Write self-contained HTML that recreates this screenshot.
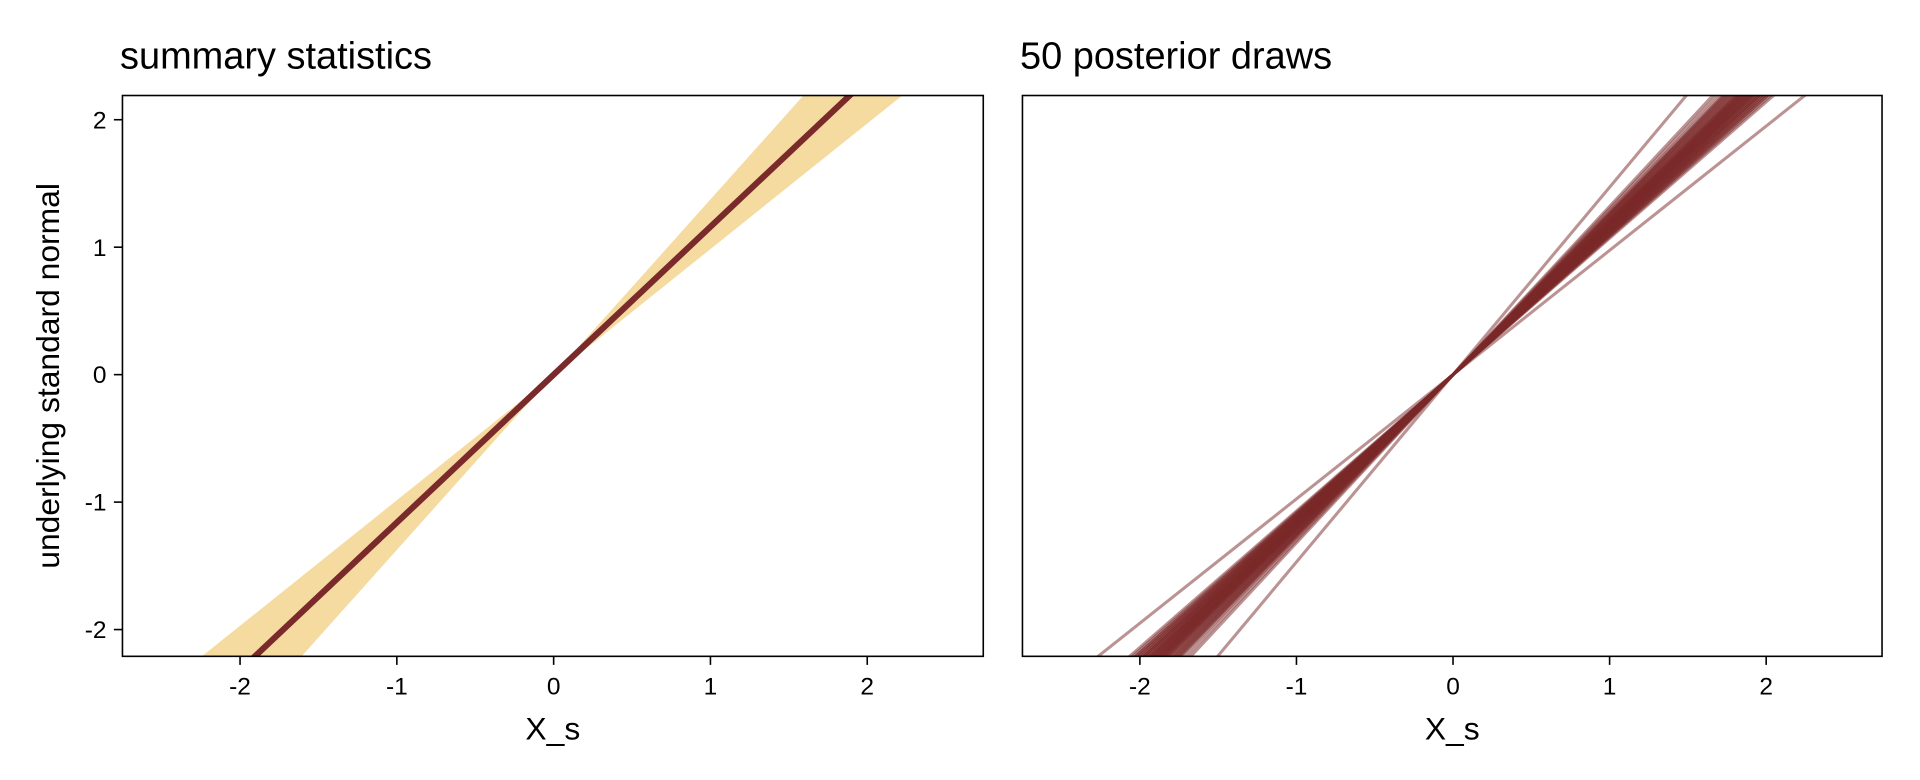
<!DOCTYPE html>
<html><head><meta charset="utf-8"><style>
html,body{margin:0;padding:0;background:#fff;width:1920px;height:780px;overflow:hidden;font-family:"Liberation Sans",Arial,sans-serif}
svg{display:block}
svg text{font-family:"Liberation Sans",Arial,sans-serif}
</style></head><body>
<svg id="c" width="1920" height="780" viewBox="0 0 1568 637"></svg>
<script>
const xTicks=[-2,-1,0,1,2];
const yTicks=[-2,-1,0,1,2];
const meanSlope=[1.16];
const bandSlopes=[0.985,1.375];
const drawSlopes=[1.47,0.975,1.10,1.15,1.20,1.12,1.25,1.18,1.08,1.22,1.14,1.30,1.17,1.11,1.19,1.24,1.09,1.16,1.21,1.13,1.27,1.15,1.18,1.10,1.23,1.12,1.20,1.16,1.26,1.14,1.07,1.19,1.28,1.13,1.17,1.21,1.11,1.24,1.15,1.18,1.32,1.12,1.16,1.22,1.09,1.19,1.14,1.26,1.17,1.20];
const NS="http://www.w3.org/2000/svg";
const svg=document.getElementById('c');
function mk(t,a,p){const e=document.createElementNS(NS,t);for(const k in a)e.setAttribute(k,a[k]);(p||svg).appendChild(e);return e;}
const X0=-2.75,X1=2.74,Y0=-2.21,Y1=2.19;
const panels=[{l:100,r:803,t:78,b:536,title:"summary statistics",yl:true},{l:835,r:1537,t:78,b:536,title:"50 posterior draws",yl:false}];
panels.forEach((P,i)=>{
 const sx=v=>P.l+(v-X0)/(X1-X0)*(P.r-P.l);
 const sy=v=>P.b-(v-Y0)/(Y1-Y0)*(P.b-P.t);
 const g=mk('g',{});
 
 
 const cid='clip'+i;
 const cp=mk('clipPath',{id:cid},g);mk('rect',{x:P.l,y:P.t,width:P.r-P.l,height:P.b-P.t},cp);
 const pg=mk('g',{'clip-path':'url(#'+cid+')'},g);
 if(i==0){
  const [a,b]=bandSlopes;
  const pts=[[X0,a*X0],[0,0],[X0,b*X0]].map(p=>sx(p[0])+','+sy(p[1])).join(' ');
  const pts2=[[X1,a*X1],[0,0],[X1,b*X1]].map(p=>sx(p[0])+','+sy(p[1])).join(' ');
  const b1=mk('polygon',{points:pts,fill:'#f5dba0'},pg);
  
  const b2=mk('polygon',{points:pts2,fill:'#f5dba0'},pg);
  
  const m=meanSlope[0];
  const ml=mk('line',{x1:sx(X0),y1:sy(m*X0),x2:sx(X1),y2:sy(m*X1),stroke:'#7a2a2a','stroke-width':5},pg);
  
 }else{
  drawSlopes.forEach(s=>{
   const l=mk('line',{x1:sx(X0),y1:sy(s*X0),x2:sx(X1),y2:sy(s*X1),stroke:'rgba(122,40,40,0.5)','stroke-width':2.5},pg);
   
   
  });
 }
 mk('rect',{x:P.l,y:P.t,width:P.r-P.l,height:P.b-P.t,fill:'none',stroke:'#000','stroke-width':1.3},g);
 xTicks.forEach(v=>{
  mk('line',{x1:sx(v),x2:sx(v),y1:P.b,y2:P.b+7,stroke:'#000','stroke-width':1.3},g);
  const t=mk('text',{x:sx(v),y:P.b+31,'text-anchor':'middle','font-size':20},g);t.textContent=v;
  
 });
 const xt=mk('text',{x:(P.l+P.r)/2,y:P.b+68,'text-anchor':'middle','font-size':26},g);xt.textContent='X_s';
 
 const tt=mk('text',{x:P.l-2,y:56,'font-size':31},g);tt.textContent=P.title;
 
 if(P.yl){
  yTicks.forEach(v=>{
   mk('line',{x1:P.l-7,x2:P.l,y1:sy(v),y2:sy(v),stroke:'#000','stroke-width':1.3},g);
   const t=mk('text',{x:P.l-13,y:sy(v)+7,'text-anchor':'end','font-size':20},g);t.textContent=v;
   
  });
  const yt=mk('text',{x:0,y:0,'text-anchor':'middle','font-size':26,transform:'translate(48,'+((P.t+P.b)/2)+') rotate(-90)'},g);
  yt.textContent='underlying standard normal';
  
 }
});
</script>
</body></html>
